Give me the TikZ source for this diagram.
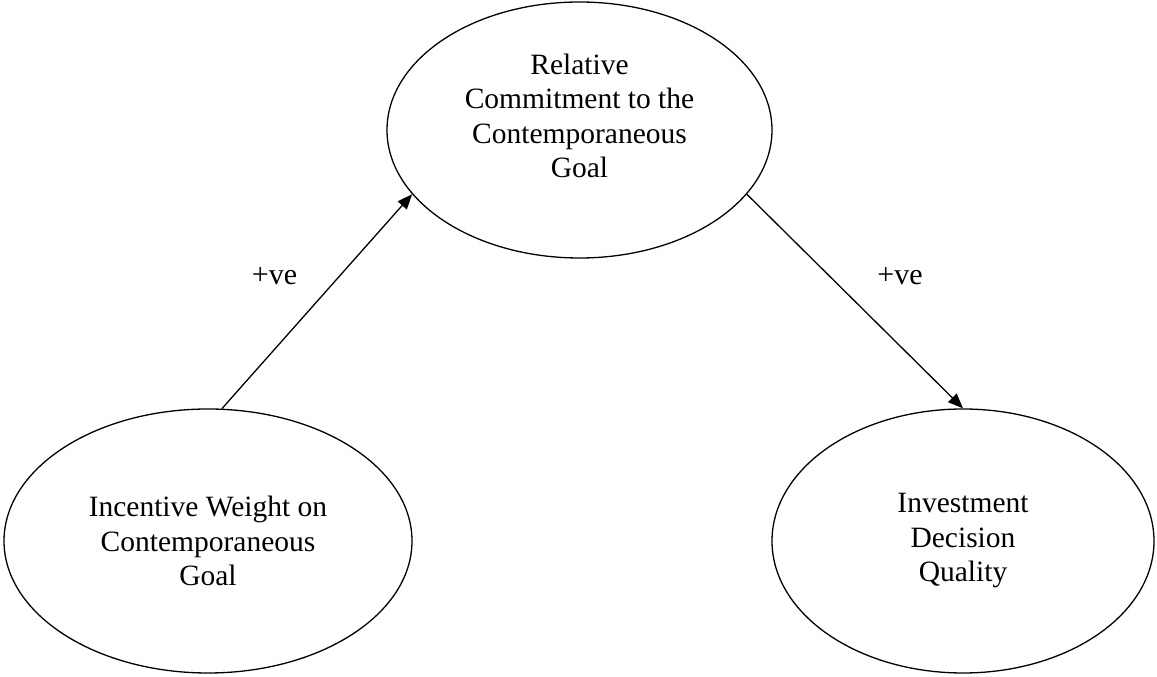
\documentclass[tikz,border=0pt]{standalone}
\usepackage{fontspec}
\setmainfont{Liberation Serif}
\usetikzlibrary{shapes.geometric,arrows.meta}
\begin{document}
\begin{tikzpicture}[x=1pt,y=1pt,
  construct/.style={draw,ellipse,line width=1.3pt,inner sep=0pt,align=center,
    font=\fontsize{29.5}{34.5}\selectfont},
  effect/.style={-{Triangle[length=15pt,width=12pt]},line width=1.3pt},
  sign/.style={font=\fontsize{30}{34.5}\selectfont}]
  \useasboundingbox (0,0) rectangle (1157,677);
  % the text of the top construct sits a little above the centre of its ellipse
  \node[construct,minimum width=385pt,minimum height=256pt,text depth=28pt] (T) at (579.5,547)
    {Relative\\Commitment to the\\Contemporaneous\\Goal};
  \node[construct,minimum width=408pt,minimum height=264pt] (L) at (208,136)
    {Incentive Weight on\\Contemporaneous\\Goal};
  \node[construct,minimum width=382pt,minimum height=264pt] (R) at (963,136)
    {Investment\\Decision\\Quality};
  \draw[effect] (L.84.4) -- (T.201.4);
  \draw[effect] (T.339.5) -- (R.north);
  \node[sign] (s1) at (274.5,401) {+ve};
  \node[sign] (s2) at (900,401) {+ve};
\end{tikzpicture}
\end{document}
